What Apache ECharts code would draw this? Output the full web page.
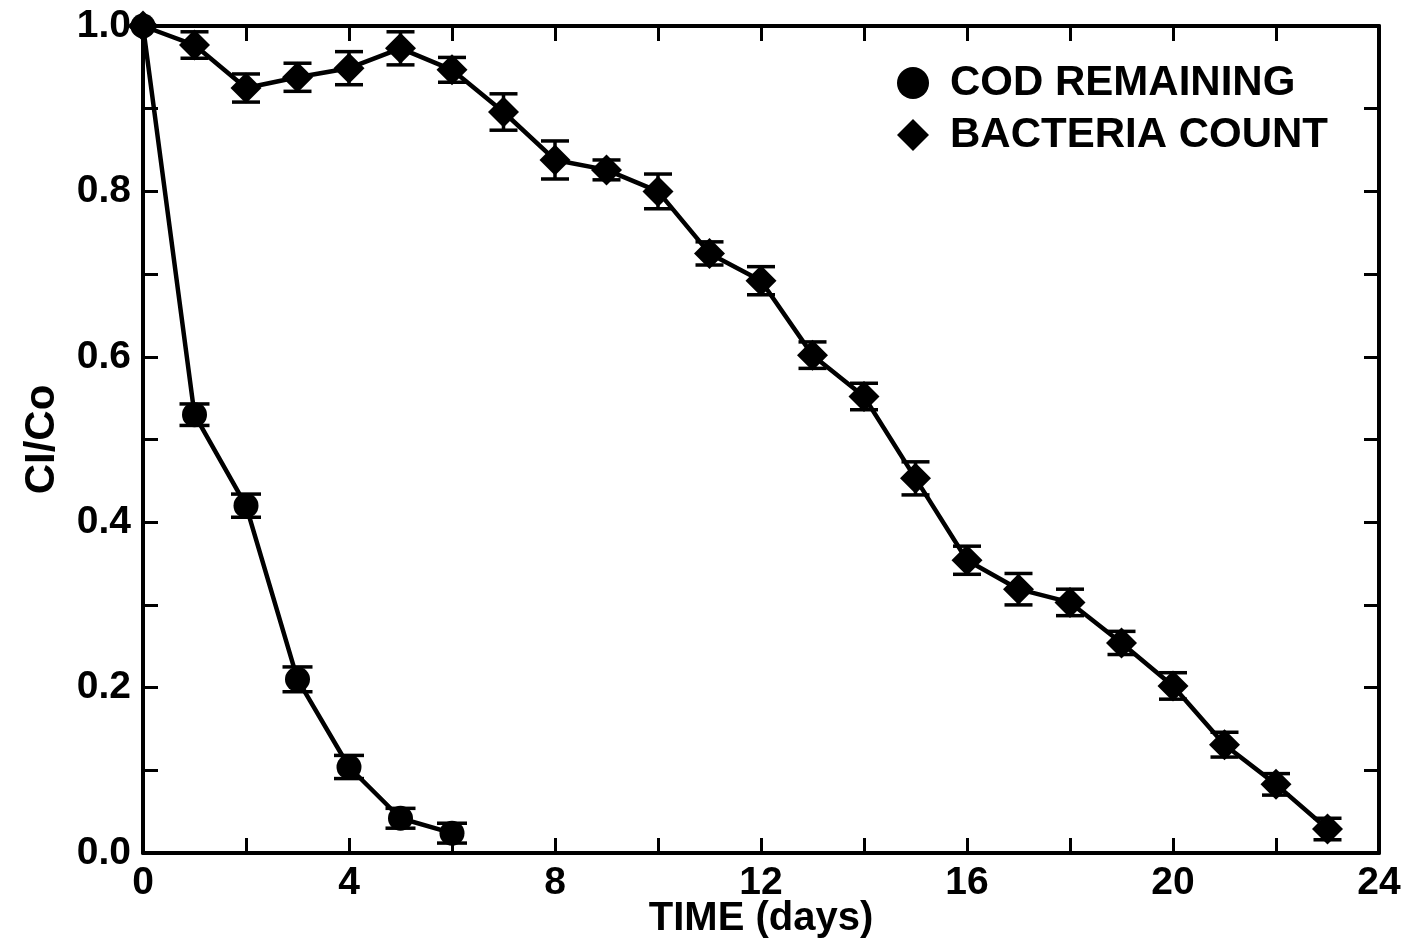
<!DOCTYPE html>
<html>
<head>
<meta charset="utf-8">
<script src="https://cdn.jsdelivr.net/npm/echarts@6/dist/echarts.min.js"></script>
<style>
html,body{margin:0;padding:0;background:#fff;}
#chart{width:1410px;height:945px;}
</style>
</head>
<body>
<div id="chart"></div>
<script>
// Data
const codDays = [0, 1, 2, 3, 4, 5, 6];
const codValues = [1.0, 0.53, 0.42, 0.21, 0.104, 0.042, 0.024];
const codErrors = [0, 0.013, 0.014, 0.015, 0.014, 0.012, 0.012];

const bacDays = [0, 1, 2, 3, 4, 5, 6, 7, 8, 9, 10, 11, 12, 13, 14, 15, 16, 17, 18, 19, 20, 21, 22, 23];
const bacValues = [1.0, 0.977, 0.925, 0.938, 0.949, 0.973, 0.947, 0.896, 0.838, 0.826, 0.800, 0.725, 0.692, 0.602, 0.552, 0.453, 0.354, 0.319, 0.303, 0.254, 0.202, 0.131, 0.083, 0.029];
const bacErrors = [0, 0.016, 0.017, 0.017, 0.02, 0.02, 0.015, 0.022, 0.023, 0.012, 0.021, 0.014, 0.017, 0.016, 0.016, 0.02, 0.017, 0.019, 0.016, 0.014, 0.016, 0.015, 0.013, 0.013];

const xTicks = [0, 4, 8, 12, 16, 20, 24];
const yTicks = [0.0, 0.2, 0.4, 0.6, 0.8, 1.0];

const seriesNames = ['COD REMAINING', 'BACTERIA COUNT'];

const FONT = '"Liberation Sans", Arial, Helvetica, sans-serif';

function pairs(xs, ys) { return xs.map((x, i) => [x, ys[i]]); }
function triples(xs, ys, es) { return xs.map((x, i) => [x, ys[i], es[i]]); }

function errRender(capHalf) {
  return function (params, api) {
    const x = api.value(0), y = api.value(1), e = api.value(2);
    if (!e) return null;
    const top = api.coord([x, y + e]);
    const bot = api.coord([x, y - e]);
    const st = { stroke: '#000', lineWidth: 3.5 };
    return {
      type: 'group',
      children: [
        { type: 'line', shape: { x1: top[0], y1: top[1], x2: bot[0], y2: bot[1] }, style: st },
        { type: 'line', shape: { x1: top[0] - capHalf, y1: top[1], x2: top[0] + capHalf, y2: top[1] }, style: st },
        { type: 'line', shape: { x1: bot[0] - capHalf, y1: bot[1], x2: bot[0] + capHalf, y2: bot[1] }, style: st }
      ]
    };
  };
}

const axisLineStyle = { color: '#000', width: 4 };
const tickStyle = { show: true, inside: true, length: 15, lineStyle: { color: '#000', width: 3 } };

const chart = echarts.init(document.getElementById('chart'), null, { renderer: 'canvas' });
chart.setOption({
  backgroundColor: '#fff',
  animation: false,
  grid: { left: 143, right: 31, top: 26, bottom: 92, containLabel: false, outerBoundsMode: 'none' },
  legend: {
    orient: 'vertical',
    left: 892,
    top: 56,
    itemWidth: 32,
    itemHeight: 32,
    itemGap: 8,
    data: [
      { name: seriesNames[0], icon: 'circle', itemStyle: { color: '#000' } },
      { name: seriesNames[1], icon: 'diamond', itemStyle: { color: '#000' } }
    ],
    textStyle: { color: '#000', fontSize: 42, fontWeight: 'bold', fontFamily: FONT, lineHeight: 44, padding: [0, 0, 0, 16] },
    itemStyle: { color: '#000' }
  },
  xAxis: [
    {
      type: 'value', min: 0, max: 24, interval: 2,
      name: 'TIME (days)', nameLocation: 'middle', nameGap: 46, nameMoveOverlap: false,
      nameTextStyle: { color: '#000', fontSize: 40, fontWeight: 'bold', fontFamily: FONT },
      axisLine: { show: true, onZero: false, lineStyle: axisLineStyle },
      axisTick: tickStyle,
      splitLine: { show: false },
      axisLabel: {
        color: '#000', fontSize: 39, fontWeight: 'bold', fontFamily: FONT, margin: 11,
        showMinLabel: true, showMaxLabel: true,
        formatter: v => (xTicks.indexOf(v) >= 0 ? String(v) : '')
      }
    },
    {
      type: 'value', min: 0, max: 24, interval: 2, position: 'top',
      axisLine: { show: true, onZero: false, lineStyle: axisLineStyle },
      axisTick: tickStyle, axisLabel: { show: false }, splitLine: { show: false }
    }
  ],
  yAxis: [
    {
      type: 'value', min: 0, max: 1, interval: 0.1,
      name: 'CI/Co', nameLocation: 'middle', nameGap: 80, nameRotate: 90, nameMoveOverlap: false,
      nameTextStyle: { color: '#000', fontSize: 42, fontWeight: 'bold', fontFamily: FONT },
      axisLine: { show: true, onZero: false, lineStyle: axisLineStyle },
      axisTick: tickStyle,
      splitLine: { show: false },
      axisLabel: {
        color: '#000', fontSize: 39, fontWeight: 'bold', fontFamily: FONT, margin: 12,
        showMinLabel: true, showMaxLabel: true,
        formatter: v => {
          const r = Math.round(v * 10) / 10;
          return yTicks.some(t => Math.abs(t - r) < 1e-9) ? r.toFixed(1) : '';
        }
      }
    },
    {
      type: 'value', min: 0, max: 1, interval: 0.1, position: 'right',
      axisLine: { show: true, onZero: false, lineStyle: axisLineStyle },
      axisTick: tickStyle, axisLabel: { show: false }, splitLine: { show: false }
    }
  ],
  series: [
    {
      name: seriesNames[0], type: 'line', data: pairs(codDays, codValues),
      symbol: 'circle', symbolSize: 25, z: 3,
      lineStyle: { color: '#000', width: 4.5 },
      itemStyle: { color: '#000' }
    },
    {
      name: seriesNames[1], type: 'line', data: pairs(bacDays, bacValues),
      symbol: 'diamond', symbolSize: [31, 31], z: 4,
      lineStyle: { color: '#000', width: 4.5 },
      itemStyle: { color: '#000' }
    },
    {
      name: 'codErr', type: 'custom', data: triples(codDays, codValues, codErrors),
      renderItem: errRender(15), z: 5, silent: true,
      encode: { x: 0, y: 1 }
    },
    {
      name: 'bacErr', type: 'custom', data: triples(bacDays, bacValues, bacErrors),
      renderItem: errRender(14), z: 5, silent: true,
      encode: { x: 0, y: 1 }
    }
  ]
});
</script>
</body>
</html>
